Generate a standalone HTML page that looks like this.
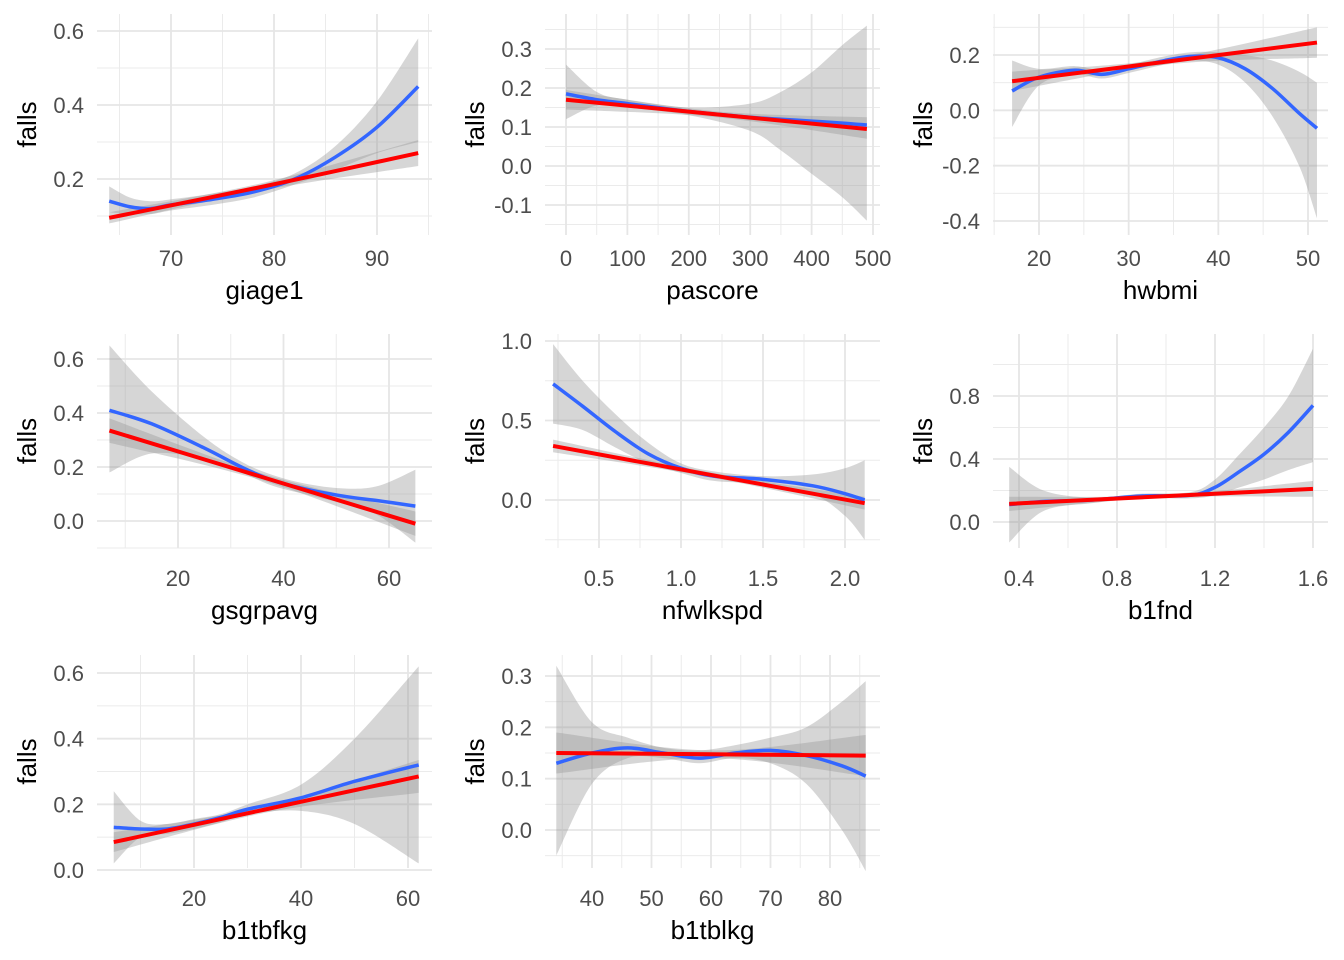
<!DOCTYPE html>
<html><head><meta charset="utf-8">
<style>
body{margin:0;background:#fff;}
svg{display:block;font-family:"Liberation Sans",Arial,sans-serif;}
</style></head>
<body>
<svg id="chart" width="1344" height="960" viewBox="0 0 1344 960"></svg>
<script>
// ---- data per panel ----
const titles = ["giage1","pascore","hwbmi","gsgrpavg","nfwlkspd","b1fnd","b1tbfkg","b1tblkg"];
const xTicks = [[70,80,90],[0,100,200,300,400,500],[20,30,40,50],[20,40,60],[0.5,1.0,1.5,2.0],[0.4,0.8,1.2,1.6],[20,40,60],[40,50,60,70,80]];
const xTickLabels = [["70","80","90"],["0","100","200","300","400","500"],["20","30","40","50"],["20","40","60"],["0.5","1.0","1.5","2.0"],["0.4","0.8","1.2","1.6"],["20","40","60"],["40","50","60","70","80"]];
const yTicks = [[0.2,0.4,0.6],[-0.1,0,0.1,0.2,0.3],[-0.4,-0.2,0,0.2],[0,0.2,0.4,0.6],[0,0.5,1.0],[0,0.4,0.8],[0,0.2,0.4,0.6],[0,0.1,0.2,0.3]];
const yTickLabels = [["0.2","0.4","0.6"],["-0.1","0.0","0.1","0.2","0.3"],["-0.4","-0.2","0.0","0.2"],["0.0","0.2","0.4","0.6"],["0.0","0.5","1.0"],["0.0","0.4","0.8"],["0.0","0.2","0.4","0.6"],["0.0","0.1","0.2","0.3"]];

const blueX = [
 [64,66,68,70,74,78,82,86,90,94],
 [0,50,100,200,300,350,400,450,490],
 [17,20,24,27,30,34,37,40,43,46,49,51],
 [7,15,25,32,38,45,52,58,65],
 [0.22,0.4,0.6,0.8,1.0,1.2,1.5,1.8,2.0,2.12],
 [0.36,0.5,0.7,0.9,1.1,1.2,1.3,1.4,1.5,1.6],
 [5,10,15,20,25,30,40,50,62],
 [34,40,46,52,58,64,70,76,82,86]];
const blueY = [
 [0.14,0.125,0.12,0.13,0.145,0.165,0.2,0.26,0.34,0.45],
 [0.185,0.17,0.16,0.14,0.125,0.12,0.115,0.11,0.105],
 [0.07,0.12,0.145,0.13,0.15,0.18,0.195,0.19,0.15,0.08,-0.01,-0.065],
 [0.41,0.36,0.27,0.2,0.15,0.115,0.09,0.075,0.055],
 [0.73,0.59,0.43,0.29,0.2,0.15,0.13,0.09,0.04,0.0],
 [0.11,0.13,0.14,0.165,0.17,0.22,0.32,0.43,0.57,0.74],
 [0.13,0.125,0.125,0.14,0.16,0.185,0.22,0.27,0.32],
 [0.13,0.15,0.16,0.15,0.14,0.15,0.155,0.145,0.125,0.105]];
const blueLo = [
 [0.11,0.105,0.105,0.115,0.13,0.15,0.185,0.225,0.27,0.3],
 [0.12,0.155,0.15,0.13,0.09,0.04,-0.02,-0.08,-0.14],
 [-0.06,0.09,0.13,0.115,0.135,0.165,0.18,0.165,0.1,-0.02,-0.2,-0.39],
 [0.18,0.25,0.23,0.18,0.13,0.095,0.06,0.02,-0.08],
 [0.48,0.44,0.33,0.23,0.17,0.12,0.1,0.04,-0.1,-0.25],
 [-0.13,0.07,0.12,0.15,0.15,0.17,0.22,0.27,0.33,0.38],
 [0.02,0.1,0.11,0.125,0.145,0.17,0.18,0.14,0.02],
 [-0.05,0.09,0.14,0.14,0.13,0.14,0.13,0.09,0.0,-0.08]];
const blueHi = [
 [0.18,0.15,0.14,0.145,0.16,0.18,0.215,0.29,0.41,0.58],
 [0.26,0.19,0.17,0.15,0.16,0.19,0.24,0.31,0.36],
 [0.18,0.15,0.16,0.145,0.165,0.195,0.21,0.21,0.2,0.18,0.14,0.1],
 [0.65,0.48,0.31,0.22,0.17,0.135,0.12,0.13,0.19],
 [0.98,0.75,0.54,0.36,0.23,0.18,0.15,0.16,0.2,0.25],
 [0.35,0.2,0.155,0.18,0.19,0.27,0.43,0.6,0.8,1.1],
 [0.24,0.15,0.14,0.155,0.17,0.2,0.26,0.4,0.62],
 [0.32,0.21,0.18,0.16,0.155,0.165,0.18,0.2,0.25,0.29]];
const redX = [[64,79,94],[0,245,490],[17,34,51],[7,36,65],[0.22,1.17,2.12],[0.36,0.98,1.6],[5,33.5,62],[34,60,86]];
const redY = [[0.095,0.18,0.27],[0.17,0.1325,0.095],[0.105,0.175,0.245],[0.335,0.1625,-0.01],[0.34,0.16,-0.02],[0.115,0.1625,0.21],[0.085,0.185,0.285],[0.15,0.1475,0.145]];
const redLo = [[0.08,0.17,0.235],[0.145,0.125,0.07],[0.07,0.165,0.19],[0.29,0.15,-0.055],[0.3,0.145,-0.06],[0.07,0.155,0.16],[0.055,0.175,0.235],[0.11,0.14,0.105]];
const redHi = [[0.11,0.19,0.305],[0.195,0.14,0.125],[0.14,0.185,0.3],[0.38,0.175,0.035],[0.38,0.175,0.02],[0.16,0.17,0.26],[0.115,0.195,0.335],[0.19,0.155,0.185]];

// ---- layout ----
const colL=[97,545,993], colR=[432,880,1328], rowT=[14,334,655], rowB=[235,548,868];
const xCal=[[70,171,90,377],[0,566,500,873],[20,1039,50,1308],[20,178,60,389],[0.5,599,2.0,845],[0.4,1019,1.6,1313],[20,194,60,408],[40,592,80,830]];
const yCal=[[0.6,31,0.2,179],[0.3,49,-0.1,205],[0.2,55,-0.4,221],[0.6,359,0,521],[1.0,341,0,500],[0.8,396,0,522],[0.6,673,0,870],[0.3,676,0,830]];

const NS="http://www.w3.org/2000/svg";
const svg=document.getElementById('chart');
function mk(tag,attrs,parent){const e=document.createElementNS(NS,tag);for(const k in attrs)e.setAttribute(k,attrs[k]);(parent||svg).appendChild(e);return e;}
function lin(c){return v=>c[1]+(v-c[0])*(c[3]-c[1])/(c[2]-c[0]);}
function smooth(pts,start){
  let d=(start?'M':'L')+pts[0][0]+','+pts[0][1];
  for(let i=0;i<pts.length-1;i++){
    const p0=pts[Math.max(0,i-1)],p1=pts[i],p2=pts[i+1],p3=pts[Math.min(pts.length-1,i+2)];
    const c1x=p1[0]+(p2[0]-p0[0])/6,c1y=p1[1]+(p2[1]-p0[1])/6;
    const c2x=p2[0]-(p3[0]-p1[0])/6,c2y=p2[1]-(p3[1]-p1[1])/6;
    d+='C'+c1x+','+c1y+' '+c2x+','+c2y+' '+p2[0]+','+p2[1];
  }
  return d;
}

for(let p=0;p<8;p++){
  const col=p%3,row=Math.floor(p/3);
  const L=colL[col],R=colR[col],T=rowT[row],B=rowB[row];
  const labY=266+row*320, titY=299+row*320;
  const sx=lin(xCal[p]),sy=lin(yCal[p]);
  const g=mk('g',{});
  
  
  const xt=xTicks[p],yt=yTicks[p];
  const dx=xt[1]-xt[0],dy=yt[1]-yt[0];
  const minX=[],minY=[];
  for(let i=-1;i<xt.length;i++)minX.push(xt[0]+(i+0.5)*dx);
  for(let i=-1;i<yt.length;i++)minY.push(yt[0]+(i+0.5)*dy);
  minX.forEach(v=>{const x=sx(v);if(x>=L&&x<=R){const l=mk('line',{x1:x,x2:x,y1:T,y2:B,stroke:'#ebebeb','stroke-width':1},g);}});
  minY.forEach(v=>{const y=sy(v);if(y>=T&&y<=B){const l=mk('line',{x1:L,x2:R,y1:y,y2:y,stroke:'#ebebeb','stroke-width':1},g);}});
  xt.forEach((v,i)=>{const x=sx(v);const l=mk('line',{x1:x,x2:x,y1:T,y2:B,stroke:'#e6e6e6','stroke-width':1.8},g);
    const t=mk('text',{x:x,y:labY,'text-anchor':'middle','font-size':22,fill:'#4d4d4d'},g);t.textContent=xTickLabels[p][i];});
  yt.forEach((v,i)=>{const y=sy(v);const l=mk('line',{x1:L,x2:R,y1:y,y2:y,stroke:'#e6e6e6','stroke-width':1.8},g);
    const t=mk('text',{x:L-13,y:y+8,'text-anchor':'end','font-size':22,fill:'#4d4d4d'},g);t.textContent=yTickLabels[p][i];});
  function band(xs,lo,hi,name){
    const top=xs.map((v,i)=>[sx(v),sy(hi[i])]);
    const bot=xs.map((v,i)=>[sx(v),sy(lo[i])]).reverse();
    const d=smooth(top,true)+smooth(bot,false)+'Z';
    const e=mk('path',{d:d,fill:'#999999','fill-opacity':0.4},g);
  }
  function curve(xs,ys,color,w,name){
    const d=smooth(xs.map((v,i)=>[sx(v),sy(ys[i])]),true);
    const e=mk('path',{d:d,fill:'none',stroke:color,'stroke-width':w,'stroke-linejoin':'round'},g);
  }
  band(blueX[p],blueLo[p],blueHi[p],'loess-ribbon');
  band(redX[p],redLo[p],redHi[p],'lm-ribbon');
  curve(blueX[p],blueY[p],'#3366FF',3.5,'loess-line');
  curve(redX[p],redY[p],'#FF0000',4,'lm-line');
  const xtitle=mk('text',{x:(L+R)/2,y:titY,'text-anchor':'middle','font-size':26,fill:'#000'},g);xtitle.textContent=titles[p];
  
  const yx=L-61,yy=(T+B)/2;
  const ytitle=mk('text',{x:yx,y:yy,'text-anchor':'middle','font-size':26,fill:'#000',transform:'rotate(-90 '+yx+' '+yy+')'},g);ytitle.textContent='falls';
  
}
</script>
</body></html>
